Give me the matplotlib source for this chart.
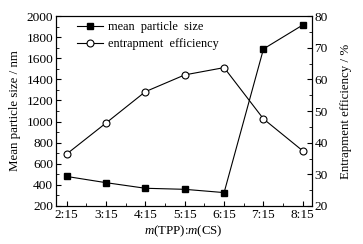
import numpy as np
import matplotlib
matplotlib.use("Agg")
import matplotlib.pyplot as plt
from matplotlib.ticker import MultipleLocator, FixedLocator

ratios = ["2:15", "3:15", "4:15", "5:15", "6:15", "7:15", "8:15"]
particle_size = [480, 421, 368, 358, 327, 1688, 1915]
entrapment = [36.4, 46.2, 56.1, 61.4, 63.7, 47.5, 37.4]

plt.rcParams['font.family'] = ['Liberation Serif', 'DejaVu Serif']
plt.rcParams['mathtext.fontset'] = 'custom'
plt.rcParams['mathtext.it'] = 'Liberation Serif:italic'
plt.rcParams['mathtext.rm'] = 'Liberation Serif'

fig = plt.figure(figsize=(3.63, 2.44), dpi=100)
ax = fig.add_axes([56 / 363, 38 / 244, (311.5 - 56) / 363, (206 - 16) / 244])
ax2 = ax.twinx()

x = np.arange(len(ratios))
l1, = ax.plot(x, particle_size, '-', color='black', lw=0.8, marker='s',
              ms=4.5, mfc='black', mec='black', label='mean  particle  size')
l2, = ax2.plot(x, entrapment, '-', color='black', lw=0.8, marker='o',
               ms=5, mfc='white', mec='black', mew=0.8, label='entrapment  efficiency')

ax.set_xlim(-0.27, 6.22)
ax.set_ylim(200, 2000)
ax2.set_ylim(20, 80)

ax.set_xticks(x)
ax.set_xticklabels(ratios)
ax.xaxis.set_minor_locator(FixedLocator(np.arange(-0.5, 6.6, 0.5)))
ax.yaxis.set_major_locator(MultipleLocator(200))
ax.yaxis.set_minor_locator(MultipleLocator(100))
ax2.yaxis.set_major_locator(MultipleLocator(10))
ax2.yaxis.set_minor_locator(MultipleLocator(5))

for a in (ax, ax2):
    a.tick_params(which='major', direction='in', length=3.5, width=0.8, labelsize=9.6, pad=2)
    a.tick_params(which='minor', direction='in', length=2, width=0.6)
    for s in a.spines.values():
        s.set_linewidth(0.8)
ax.tick_params(axis='x', which='both', top=False)

ax.set_ylabel('Mean particle size / nm', fontsize=9.3, labelpad=4)
ax2.set_ylabel('Entrapment efficiency / %', fontsize=9.3, labelpad=9)
ax.set_xlabel('$m$(TPP):$m$(CS)', fontsize=9.3, labelpad=2)

ax.legend([l1, l2], [l1.get_label(), l2.get_label()], loc='upper left',
          frameon=False, fontsize=8.8, handlelength=2.1, handletextpad=0.4,
          labelspacing=0.4, borderaxespad=0.0, bbox_to_anchor=(0.063, 1.0))

fig.savefig('out.png', dpi=100)
